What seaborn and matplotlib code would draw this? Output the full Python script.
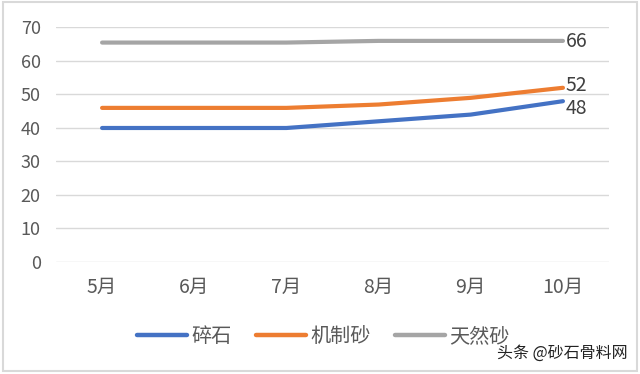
import pandas as pd
import matplotlib
matplotlib.use("Agg")
import matplotlib.pyplot as plt
import seaborn as sns
from matplotlib.patches import Rectangle
from matplotlib.lines import Line2D

# 数据
months = ['5月', '6月', '7月', '8月', '9月', '10月']
gravel = [40, 40, 40, 42, 44, 48]          # 碎石
machine_sand = [46, 46, 46, 47, 49, 52]    # 机制砂
natural_sand = [65.5, 65.5, 65.5, 66, 66, 66]  # 天然砂
series_names = ['碎石', '机制砂', '天然砂']
colors = ['#4472C4', '#ED7D31', '#A5A5A5']

df = pd.DataFrame({
    'month': months * 3,
    'x': list(range(len(months))) * 3,
    'price': gravel + machine_sand + natural_sand,
    'kind': [n for n in series_names for _ in months],
})

sns.set_style('white')
plt.rcParams['font.family'] = ['Noto Sans CJK SC', 'DejaVu Sans']

fig = plt.figure(figsize=(6.4, 3.74), dpi=100)
ax = fig.add_axes([0.0875, 0.2995, 0.8641, 0.627])

sns.lineplot(data=df, x='x', y='price', hue='kind', palette=colors,
             linewidth=3.0, legend=False, ax=ax, zorder=3)

ax.set_xlim(-0.5, 5.5)
ax.set_ylim(0, 70)
ax.set_yticks(range(0, 71, 10))
ax.set_xticks(range(len(months)))
ax.set_xticklabels(months)
ax.set_xlabel('')
ax.set_ylabel('')
ax.grid(axis='y', color='#D9D9D9', linewidth=1)
ax.grid(axis='x', visible=False)
for s in ax.spines.values():
    s.set_visible(False)
ax.tick_params(axis='y', length=0, pad=11, labelsize=13, labelcolor='#595959')
ax.tick_params(axis='x', length=0, pad=11, labelsize=14, labelcolor='#595959')

# 末端数据标签
for vals, dy in [(gravel, -2.2), (machine_sand, 0.8), (natural_sand, -0.3)]:
    ax.text(5 + 0.03, vals[-1] + dy, f'{vals[-1]:.0f}', va='center', ha='left',
            fontsize=14, color='#404040')

handles = [Line2D([], [], color=c, linewidth=3.2) for c in colors]
fig.legend(handles, series_names, loc='center', bbox_to_anchor=(0.505, 0.099),
           ncol=3, frameon=False, fontsize=14.5, handlelength=2.5,
           handletextpad=0.2, columnspacing=1.2, labelcolor='#595959')

fig.text(0.98, 0.056, '头条 @砂石骨料网', ha='right', va='center',
         fontsize=11.5, color='#222222')

fig.patches.append(Rectangle((0.004, 0.008), 0.992, 0.986, transform=fig.transFigure,
                             fill=False, edgecolor='#D9D9D9', linewidth=1.5))

fig.savefig('out.png', dpi=100)
